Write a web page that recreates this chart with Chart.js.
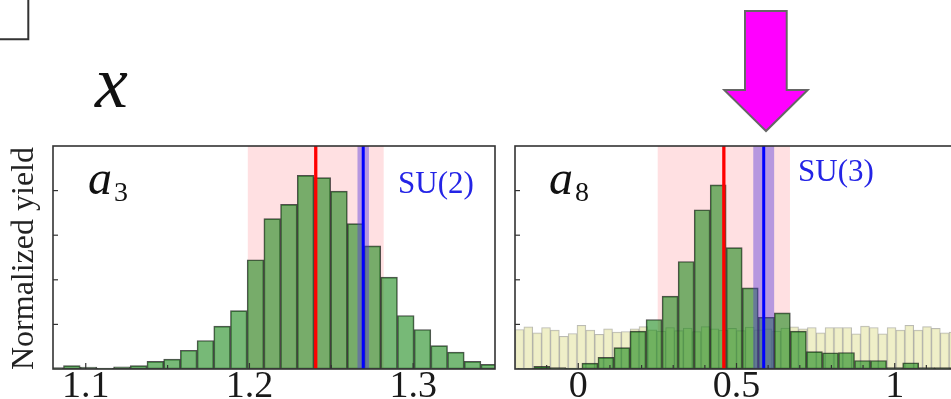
<!DOCTYPE html>
<html>
<head>
<meta charset="utf-8">
<title>Normalized yield of a3 and a8</title>
<script src="https://cdn.jsdelivr.net/npm/chart.js@4/dist/chart.umd.min.js"></script>
<style>
  html, body { margin: 0; padding: 0; background: #fff; }
  body { width: 951px; height: 399px; overflow: hidden; position: relative; }
  .panel { position: absolute; }
  #overlay { position: absolute; left: 0; top: 0; pointer-events: none; }
</style>
</head>
<body>
<div class="panel" style="left:49px; top:142px; width:450px; height:257px;">
  <canvas id="a3Chart" width="450" height="257"></canvas>
</div>
<div class="panel" style="left:511px; top:142px; width:451px; height:257px;">
  <canvas id="a8Chart" width="451" height="257"></canvas>
</div>

<svg id="overlay" width="951" height="399" xmlns="http://www.w3.org/2000/svg">
  <polyline points="0,39.3 28.3,39.3 28.3,0" fill="none" stroke="#333" stroke-width="2"/>
  <polygon points="745,11 786.7,11 786.7,90 807.7,90 766,131 724.3,90 745,90"
           fill="#ff00ff" stroke="#666" stroke-width="2"/>
  <g font-family="'Liberation Serif', 'DejaVu Serif', serif" fill="#111">
    <text x="95" y="107" font-size="74" font-style="italic">x</text>
    <text x="88" y="193.5" font-size="48" font-style="italic">a</text>
    <text x="114" y="200.7" font-size="28">3</text>
    <text x="549" y="193.5" font-size="48" font-style="italic">a</text>
    <text x="575" y="200.7" font-size="28">8</text>
    <text x="398" y="193.3" font-size="31" fill="#2424e6">SU(2)</text>
    <text x="798" y="180.7" font-size="31" fill="#2424e6">SU(3)</text>
    <text transform="translate(33,258.5) rotate(-90)" text-anchor="middle" font-size="32" fill="#222">Normalized yield</text>
  </g>
</svg>

<script>
// ---- a3: posterior histogram (bin centres and normalized yield) ----
const a3BinCenters = [1.0813, 1.0915, 1.1017, 1.1119, 1.1221, 1.1323, 1.1425, 1.1527, 1.1629,
  1.1731, 1.1833, 1.1935, 1.2037, 1.2139, 1.2241, 1.2343, 1.2445, 1.2547, 1.2649, 1.2751,
  1.2853, 1.2955, 1.3057, 1.3159, 1.3261, 1.3363, 1.3465];
const a3Yield = [0.03, 0.075, 0.045, 0.022, 0.05, 0.075, 0.17, 0.22, 0.42, 0.64, 0.96, 1.31,
  2.45, 3.37, 3.69, 4.34, 4.29, 3.99, 3.26, 2.76, 2.06, 1.20, 0.885, 0.525, 0.38, 0.17, 0.105];
const a3MajorTicks = [1.1, 1.2, 1.3];
const a3TickLabels = ['1.1', '1.2', '1.3'];
const a3FitCenter = 1.2405, a3FitHalfWidth = 0.0415;   // red line and pink band
const su2Value = 1.2695, su2HalfWidth = 0.0035;        // blue line and band

// ---- a8: posterior histogram on top of the flat prior ----
const a8BinCenters = [-0.1661, -0.1154, -0.0647, -0.0140, 0.0367, 0.0874, 0.1380, 0.1887,
  0.2394, 0.2901, 0.3408, 0.3915, 0.4421, 0.4928, 0.5435, 0.5942, 0.6449, 0.6956, 0.7462,
  0.7969, 0.8476, 0.8983, 0.9490, 0.9997, 1.0504, 1.1010, 1.1517];
const a8Yield = [0.01, 0.06, 0.03, 0.02, 0.13, 0.26, 0.48, 0.85, 1.11, 1.635, 2.41, 3.57, 4.13,
  2.72, 1.82, 1.16, 1.26, 0.85, 0.39, 0.365, 0.37, 0.19, 0.19, 0.03, 0.14, 0.03, 0.03];
const a8PriorCenters = [-0.186, -0.158, -0.130, -0.102, -0.074, -0.046, -0.018, 0.010, 0.038,
  0.066, 0.094, 0.122, 0.150, 0.178, 0.206, 0.234, 0.262, 0.290, 0.318, 0.346, 0.374, 0.402,
  0.430, 0.458, 0.486, 0.514, 0.542, 0.570, 0.598, 0.626, 0.654, 0.682, 0.710, 0.738, 0.766,
  0.794, 0.822, 0.850, 0.878, 0.906, 0.934, 0.962, 0.990, 1.018, 1.046, 1.074, 1.102, 1.130,
  1.158, 1.186];
const a8PriorYield = [0.885, 0.945, 0.81, 0.93, 0.87, 0.735, 0.795, 0.98, 0.87, 0.78, 0.90,
  0.83, 0.84, 0.90, 0.95, 0.88, 0.85, 0.93, 0.86, 0.92, 0.84, 0.95, 0.90, 0.87, 0.91, 0.86,
  0.94, 0.88, 0.90, 0.85, 0.92, 0.945, 0.90, 0.93, 0.81, 0.93, 0.93, 0.93, 0.79, 0.96, 0.93,
  0.79, 0.93, 0.87, 0.98, 0.87, 0.95, 0.91, 0.81, 0.83];
const a8MajorTicks = [0, 0.5, 1];
const a8TickLabels = ['0', '0.5', '1'];
const a8FitCenter = 0.46, a8FitHalfWidth = 0.209;
const su3Value = 0.586, su3HalfWidth = 0.033;

const SERIF = "'Liberation Serif', 'DejaVu Serif', serif";
const POSTERIOR = { fill: 'rgba(20,135,20,0.58)', edge: 'rgba(25,25,25,0.75)', width: 1 };
const PRIOR = { fill: 'rgba(236,236,190,0.85)', edge: 'rgba(150,150,140,0.65)', width: 1 };

function histogram(centers, values, xAxisID, style, order) {
  return {
    type: 'bar',
    data: centers.map((c, i) => ({ x: c, y: values[i] })),
    xAxisID, yAxisID: 'y', order,
    backgroundColor: style.fill, borderColor: style.edge, borderWidth: style.width,
    borderSkipped: false, barPercentage: 1, categoryPercentage: 1, grouped: false, clip: 0
  };
}

function xAxis(min, max, step, majors, labels) {
  return {
    type: 'linear', min, max, offset: false,
    grid: { display: false, drawTicks: false, offset: false },
    border: { display: false },
    ticks: {
      stepSize: step, includeBounds: false, autoSkip: false, maxRotation: 0, minRotation: 0,
      padding: -5, color: '#1a1a1a', font: { family: SERIF, size: 38 },
      callback: v => {
        const i = majors.findIndex(m => Math.abs(m - v) < 1e-6);
        return i < 0 ? '' : labels[i];
      }
    },
    afterFit: s => { s.height = 30; }
  };
}

// second x axis carrying the prior bins (same range, not drawn)
function hiddenAxis(min, max) {
  return {
    type: 'linear', min, max, offset: false, display: false,
    grid: { display: false, offset: false }, ticks: { stepSize: 0.1 }
  };
}

// Bands, reference lines, the frame and the inward ticks of one panel
function panelDecor(cfg) {
  const clipTo = (ctx, a) => {
    ctx.beginPath();
    ctx.rect(a.left, a.top, a.width, a.height);
    ctx.clip();
  };
  const band = (chart, lo, hi, color) => {
    const { ctx, chartArea: a } = chart;
    const x = chart.scales.x;
    const p0 = x.getPixelForValue(lo), p1 = x.getPixelForValue(hi);
    ctx.fillStyle = color;
    ctx.fillRect(p0, a.top, p1 - p0, a.height);
  };
  const line = (chart, v, color, w) => {
    const { ctx, chartArea: a } = chart;
    const p = chart.scales.x.getPixelForValue(v);
    ctx.strokeStyle = color; ctx.lineWidth = w;
    ctx.beginPath(); ctx.moveTo(p, a.top); ctx.lineTo(p, a.bottom); ctx.stroke();
  };
  return {
    id: 'panelDecor',
    beforeDatasetsDraw(chart) {
      const { ctx, chartArea: a } = chart;
      ctx.save();
      clipTo(ctx, a);
      band(chart, cfg.fit - cfg.fitHalf, cfg.fit + cfg.fitHalf, 'rgba(255,0,20,0.12)');
      ctx.restore();
    },
    afterDatasetsDraw(chart) {
      const { ctx, chartArea: a } = chart;
      ctx.save();
      clipTo(ctx, a);
      band(chart, cfg.ref - cfg.refHalf, cfg.ref + cfg.refHalf, 'rgba(80,50,220,0.42)');
      line(chart, cfg.fit, '#ff0000', 3.3);
      line(chart, cfg.ref, '#0000ff', 3);
      ctx.restore();
    },
    afterDraw(chart) {
      const { ctx, chartArea: a } = chart;
      const x = chart.scales.x, y = chart.scales.y;
      ctx.save();
      ctx.strokeStyle = '#333';
      ctx.lineWidth = 1.2;
      x.ticks.forEach(t => {
        const p = x.getPixelForValue(t.value);
        if (p <= a.left + 1 || p >= a.right - 1) return;
        const major = cfg.majors.some(m => Math.abs(m - t.value) < 1e-6);
        ctx.beginPath(); ctx.moveTo(p, a.bottom); ctx.lineTo(p, a.bottom - (major ? 6 : 4)); ctx.stroke();
      });
      [1, 2, 3, 4].forEach(v => {
        const p = y.getPixelForValue(v);
        ctx.beginPath(); ctx.moveTo(a.left, p); ctx.lineTo(a.left + 5, p); ctx.stroke();
      });
      ctx.lineWidth = 1.6;
      ctx.strokeRect(a.left, a.top, a.width, a.height);
      ctx.restore();
    }
  };
}

const common = {
  responsive: false, animation: false, events: [],
  layout: { padding: { left: 4, top: 4, right: 4, bottom: 0 } },
  plugins: { legend: { display: false }, tooltip: { enabled: false } }
};
const yAxis = { type: 'linear', min: 0, max: 5, display: false };

new Chart(document.getElementById('a3Chart'), {
  type: 'bar',
  data: { datasets: [histogram(a3BinCenters, a3Yield, 'x', POSTERIOR, 0)] },
  options: Object.assign({}, common, {
    scales: { x: xAxis(1.08, 1.35, 0.05, a3MajorTicks, a3TickLabels), y: yAxis }
  }),
  plugins: [panelDecor({ fit: a3FitCenter, fitHalf: a3FitHalfWidth, ref: su2Value, refHalf: su2HalfWidth, majors: a3MajorTicks })]
});

new Chart(document.getElementById('a8Chart'), {
  type: 'bar',
  data: {
    datasets: [
      histogram(a8BinCenters, a8Yield, 'x', POSTERIOR, 0),
      histogram(a8PriorCenters, a8PriorYield, 'xPrior', PRIOR, 1)
    ]
  },
  options: Object.assign({}, common, {
    scales: {
      x: xAxis(-0.2, 1.2, 0.1, a8MajorTicks, a8TickLabels),
      xPrior: hiddenAxis(-0.2, 1.2),
      y: yAxis
    }
  }),
  plugins: [panelDecor({ fit: a8FitCenter, fitHalf: a8FitHalfWidth, ref: su3Value, refHalf: su3HalfWidth, majors: a8MajorTicks })]
});
</script>
</body>
</html>
